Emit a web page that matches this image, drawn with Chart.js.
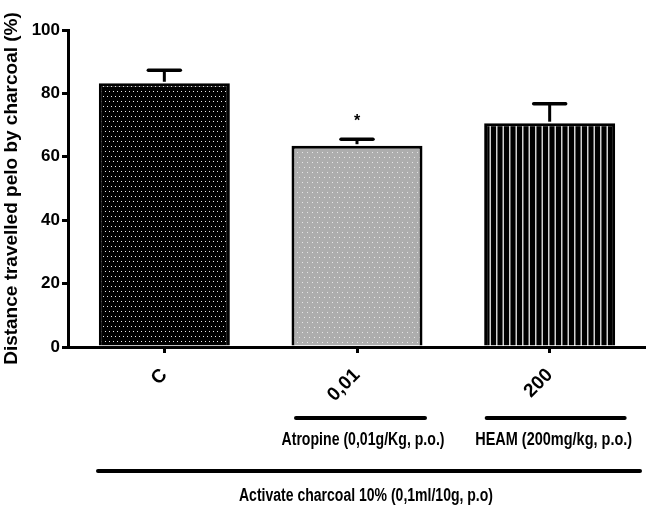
<!DOCTYPE html>
<html lang="en">
<head>
  <meta charset="UTF-8" />
  <title>Charcoal transit</title>
  <script src="https://cdn.jsdelivr.net/npm/chart.js"></script>
  <style>
    body { margin: 0; background: #fff; }
    #wrap { width: 646px; height: 506px; position: relative; }
  </style>
</head>
<body>
<div id="wrap"><canvas id="barChart"></canvas></div>

<script>
  // data
  const categories = ["C", "0,01", "200"];
  const meanValues = [83.2, 63.5, 70.6];
  const semValues = [4.1, 2.0, 6.1];
  const significance = ["", "*", ""];
  const yTicks = [0, 20, 40, 60, 80, 100];
  const groupLabels = ["Atropine (0,01g/Kg, p.o.)", "HEAM (200mg/kg, p.o.)"];
  const groupIndex = [1, 2];
  const baseLabel = "Activate charcoal 10% (0,1ml/10g, p.o)";

  const FONT = "'Liberation Sans', Arial, sans-serif";

  function makePattern(w, h, bg, draw) {
    const c = document.createElement("canvas");
    c.width = w; c.height = h;
    const g = c.getContext("2d");
    g.fillStyle = bg;
    g.fillRect(0, 0, w, h);
    draw(g);
    return document.getElementById("barChart").getContext("2d").createPattern(c, "repeat");
  }

  // black with white dots
  const dotsDark = makePattern(8, 10, "#000", g => {
    g.fillStyle = "#e8e8e8";
    g.fillRect(1, 1, 1, 1); g.fillRect(5, 1, 1, 1);
    g.fillRect(3, 6, 1, 1); g.fillRect(7, 6, 1, 1);
  });
  // grey with light dots
  const dotsGrey = makePattern(10, 10, "#adadad", g => {
    g.fillStyle = "#e6e6e6";
    g.fillRect(2, 2, 1, 1); g.fillRect(7, 2, 1, 1);
    g.fillRect(4, 7, 1, 1); g.fillRect(9, 7, 1, 1);
  });
  // black with vertical light stripes
  const stripes = makePattern(13, 4, "#000", g => {
    g.fillStyle = "#d0d0d0";
    g.fillRect(2, 0, 1.5, 4); g.fillRect(8.5, 0, 1.5, 4);
  });

  // condensed text: squeeze a bold label to the width it has in the figure
  function narrowText(ctx, text, cx, cy, width) {
    const w = ctx.measureText(text).width;
    ctx.save();
    ctx.translate(cx, cy);
    ctx.scale(width / w, 1);
    ctx.fillText(text, 0, 0);
    ctx.restore();
  }

  const annotations = {
    id: "annotations",
    afterDatasetsDraw(chart) {
      const ctx = chart.ctx;
      const x = chart.scales.x, y = chart.scales.y;
      ctx.save();
      ctx.strokeStyle = "#000";
      ctx.fillStyle = "#000";
      ctx.lineWidth = 3;
      // error bars (upper only)
      meanValues.forEach((v, i) => {
        const cx = x.getPixelForValue(i);
        const y0 = y.getPixelForValue(v);
        const y1 = y.getPixelForValue(v + semValues[i]);
        ctx.lineCap = "butt";
        ctx.beginPath();
        ctx.moveTo(cx, y0 - 1.5);
        ctx.lineTo(cx, y1);
        ctx.stroke();
        ctx.lineCap = "round";
        ctx.lineWidth = 3.5;
        ctx.beginPath();
        ctx.moveTo(cx - 16, y1);
        ctx.lineTo(cx + 16, y1);
        ctx.stroke();
        ctx.lineWidth = 3;
        if (significance[i]) {
          ctx.font = "bold 16px " + FONT;
          ctx.textAlign = "center";
          ctx.textBaseline = "middle";
          ctx.fillText(significance[i], cx, y1 - 18);
        }
      });
      ctx.restore();
    },
    afterDraw(chart) {
      const ctx = chart.ctx;
      const x = chart.scales.x;
      const widths = [163, 157];
      const textShift = [6, 4];
      const lineFrom = [-61, -63];
      const lineTo = [68, 75];
      ctx.save();
      ctx.strokeStyle = "#000";
      ctx.fillStyle = "#000";
      ctx.lineWidth = 4;
      ctx.lineCap = "round";
      ctx.textAlign = "center";
      ctx.textBaseline = "middle";
      ctx.font = "bold 18px " + FONT;
      groupIndex.forEach((gi, k) => {
        const cx = x.getPixelForValue(gi);
        ctx.beginPath();
        ctx.moveTo(cx + lineFrom[k], 418);
        ctx.lineTo(cx + lineTo[k], 418);
        ctx.stroke();
        narrowText(ctx, groupLabels[k], cx + textShift[k], 440, widths[k]);
      });
      ctx.beginPath();
      ctx.moveTo(98, 471);
      ctx.lineTo(640, 471);
      ctx.stroke();
      narrowText(ctx, baseLabel, 366, 496, 254);
      ctx.restore();
    }
  };

  new Chart(document.getElementById("barChart"), {
    type: "bar",
    data: {
      labels: categories,
      datasets: [{
        data: meanValues,
        backgroundColor: [dotsDark, dotsGrey, stripes],
        borderColor: "#000",
        borderWidth: 3,
        barPercentage: 1,
        categoryPercentage: 0.68
      }]
    },
    options: {
      responsive: true,
      maintainAspectRatio: false,
      animation: false,
      layout: { padding: { top: 30, right: 0, left: 0, bottom: 0 } },
      plugins: { legend: { display: false }, tooltip: { enabled: false } },
      scales: {
        x: {
          offset: true,
          grid: { display: true, drawOnChartArea: false, offset: false, tickLength: 6, lineWidth: 3, color: "#000" },
          border: { display: true, width: 3, color: "#000" },
          ticks: {
            color: "#000",
            font: { family: FONT, size: 19, weight: "bold" },
            minRotation: 45,
            maxRotation: 45,
            padding: 11
          },
          afterFit(scale) { scale.height = 159; }
        },
        y: {
          min: 0,
          max: 100,
          afterBuildTicks(scale) { scale.ticks = yTicks.map(v => ({ value: v })); },
          grid: { display: true, drawOnChartArea: false, tickLength: 6, lineWidth: 3, color: "#000" },
          border: { display: true, width: 3, color: "#000" },
          ticks: {
            color: "#000",
            font: { family: FONT, size: 17, weight: "bold" },
            padding: 2
          },
          title: {
            display: true,
            text: "Distance travelled pelo by charcoal (%)",
            color: "#000",
            font: { family: FONT, size: 19, weight: "bold" },
            padding: { top: 0, bottom: 2 }
          },
          afterFit(scale) { scale.width = 68; }
        }
      }
    },
    plugins: [annotations]
  });
</script>
</body>
</html>
